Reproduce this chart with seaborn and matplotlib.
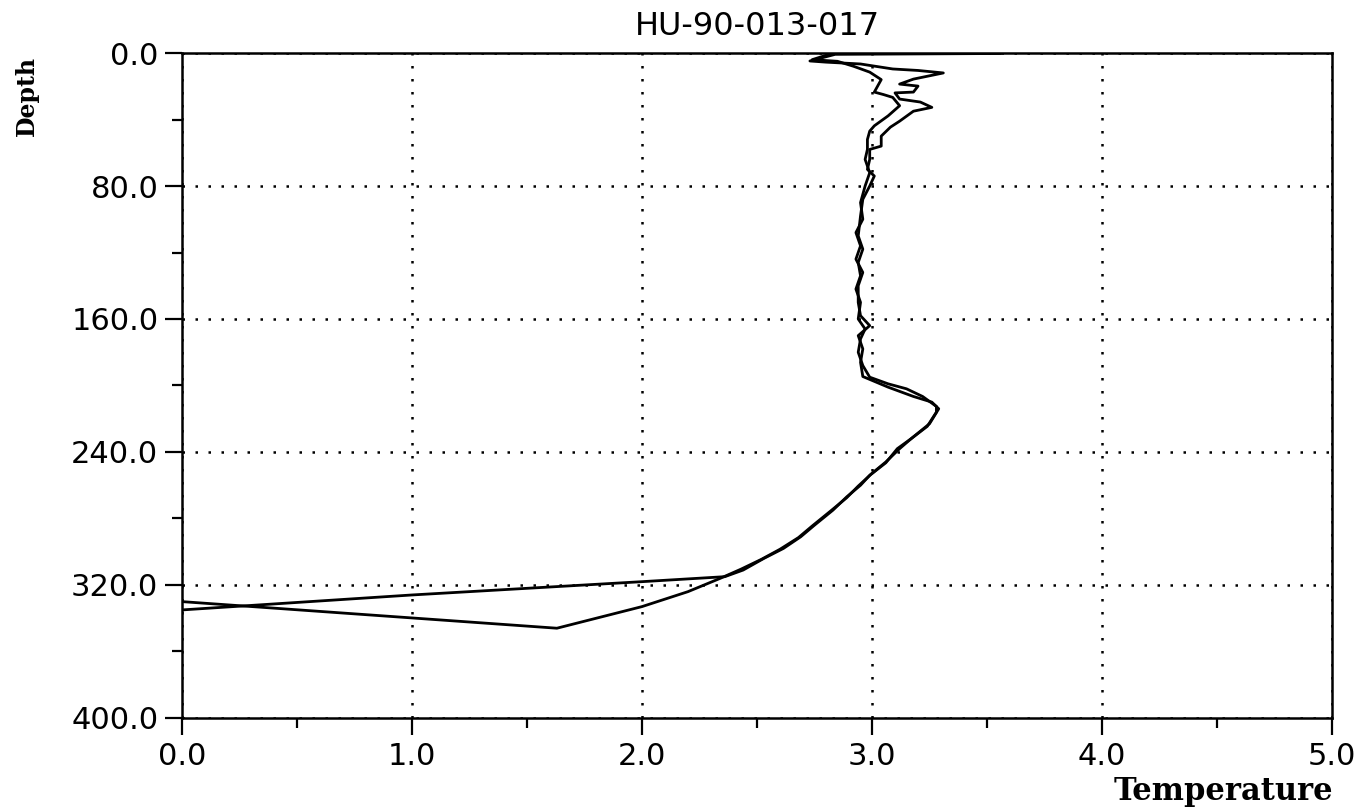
#set up modules
import numpy as np
import pandas as pd
import matplotlib
matplotlib.use("Agg")
import matplotlib.pyplot as plt
from matplotlib.ticker import MultipleLocator
import seaborn as sns

#data (temperature, depth) for the two casts
down_temp = [3.56, 2.84, 2.73, 2.80, 2.95, 3.09, 3.20, 3.31, 3.18, 3.12, 3.20, 3.18, 3.10,
             3.12, 3.21, 3.26, 3.18, 3.12, 3.08, 3.04, 3.04, 2.99, 2.99, 2.98, 3.01, 2.99,
             2.96, 2.95, 2.94, 2.96, 2.94, 2.95, 2.93, 2.95, 2.94, 2.97, 2.95, 2.94, 2.96,
             2.99, 3.07, 3.15, 3.22, 3.28, 3.28, 3.24, 3.17, 3.12, 3.06, 2.99, 2.95, 2.89,
             2.83, 2.75, 2.69, 2.615, 2.53, 2.44, 2.36, 2.0, 1.0, 0.0]
down_depth = [0.3, 0.8, 4.8, 5.5, 6.6, 9.6, 10.5, 12.0, 15.7, 18.7, 19.9, 23.5, 24.0,
              27.7, 29.5, 32.7, 35.0, 41.0, 44.6, 50.0, 56.0, 58.0, 64.0, 70.0, 74.0, 80.0,
              88.0, 98.0, 110.0, 118.0, 126.0, 134.0, 142.0, 150.0, 160.0, 166.0, 172.0, 180.0, 188.0,
              195.0, 199.0, 202.0, 206.6, 212.6, 216.0, 224.6, 232.0, 238.0, 246.0, 254.0, 260.0, 267.0,
              275.0, 284.0, 291.0, 298.0, 304.0, 311.0, 315.0, 318.0, 326.0, 335.0]

up_temp = [2.82, 2.74, 2.85, 2.92, 2.99, 3.04, 3.01, 3.05, 3.09, 3.12, 3.07, 3.01, 2.99,
           2.98, 2.98, 2.97, 2.99, 2.97, 2.95, 2.96, 2.93, 2.95, 2.93, 2.96, 2.94, 2.94,
           2.95, 2.99, 2.94, 2.96, 2.95, 2.96, 3.07, 3.18, 3.26, 3.29, 3.25, 3.17, 3.11,
           3.06, 2.995, 2.94, 2.89, 2.82, 2.74, 2.68, 2.60, 2.52, 2.43, 2.34, 2.2, 2.0,
           1.63, 0.0]
up_depth = [0.5, 4.0, 5.0, 8.0, 11.5, 16.0, 23.5, 25.0, 26.7, 31.7, 37.8, 43.8, 47.0,
            52.0, 58.0, 64.0, 72.0, 80.0, 90.0, 100.0, 108.0, 116.0, 124.0, 132.0, 140.0, 150.0,
            158.0, 164.0, 170.0, 178.0, 186.0, 194.6, 201.0, 206.6, 210.0, 214.0, 223.0, 232.0, 238.0,
            246.5, 253.5, 260.5, 267.5, 275.5, 284.5, 291.5, 298.5, 304.5, 310.5, 316.0, 324.0, 333.0,
            346.0, 330.0]

df = pd.concat([
    pd.DataFrame({"Temperature": down_temp, "Depth": down_depth, "cast": "down"}),
    pd.DataFrame({"Temperature": up_temp, "Depth": up_depth, "cast": "up"}),
])

#plot
sns.set_style("ticks")
plt.rcParams["font.family"] = ["DejaVu Sans"]
plt.rcParams["text.color"] = "black"
plt.rcParams["xtick.labelcolor"] = "black"
plt.rcParams["ytick.labelcolor"] = "black"
fig = plt.figure(figsize=(13.63, 8.08), dpi=100)
ax = fig.add_axes([0.1335, 0.1114, 0.8438, 0.823])

sns.lineplot(data=df, x="Temperature", y="Depth", units="cast", estimator=None,
             sort=False, color="black", linewidth=2.0, ax=ax)

ax.set_xlim(0, 5)
ax.set_ylim(400, 0)
ax.xaxis.set_major_locator(MultipleLocator(1.0))
ax.xaxis.set_minor_locator(MultipleLocator(0.5))
ax.yaxis.set_major_locator(MultipleLocator(80))
ax.yaxis.set_minor_locator(MultipleLocator(40))
ax.xaxis.set_major_formatter(lambda v, p: "%.1f" % v)
ax.yaxis.set_major_formatter(lambda v, p: "%.1f" % v)

ax.grid(True, which="major", color="black", linestyle=(0, (1, 4.2)), linewidth=1.8)
for s in ax.spines.values():
    s.set_linewidth(1.8)
    s.set_color("black")
ax.tick_params(which="major", length=12, width=1.6, labelsize=22, pad=5,
               color="black", labelcolor="black")
ax.tick_params(which="minor", length=7, width=1.6, color="black")

ax.set_xlabel("")
ax.set_ylabel("")
ax.set_title("HU-90-013-017", fontsize=23, pad=13, color="black")
fig.text(1333 / 1363, 1 - 800 / 808, "Temperature", ha="right", va="baseline",
         fontsize=22, fontweight="bold", family="DejaVu Serif", color="black")
fig.text(27 / 1363, 1 - 56 / 808, "Depth", ha="center", va="top", rotation=90,
         fontsize=17, fontweight="bold", family="DejaVu Serif", color="black")

plt.savefig("out.png", dpi=100)
